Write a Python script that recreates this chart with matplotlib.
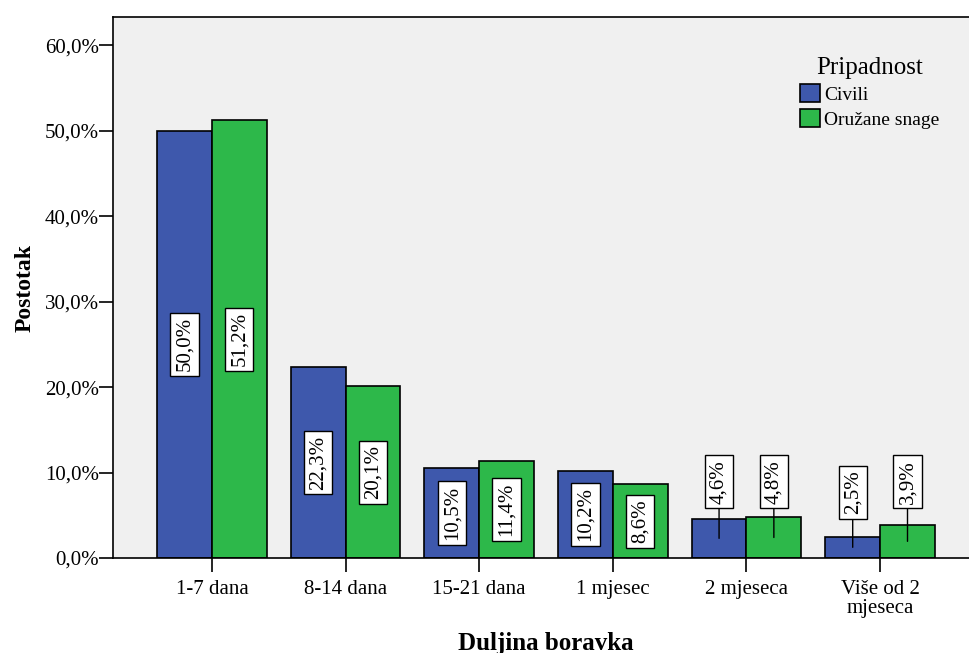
import matplotlib
matplotlib.use("Agg")
import matplotlib.pyplot as plt
import numpy as np

categories = ["1-7 dana", "8-14 dana", "15-21 dana", "1 mjesec", "2 mjeseca", "Više od 2\nmjeseca"]
civili = [50.0, 22.3, 10.5, 10.2, 4.6, 2.5]
oruzane = [51.2, 20.1, 11.4, 8.6, 4.8, 3.9]
series_names = ["Civili", "Oružane snage"]
yticks = [0, 10, 20, 30, 40, 50, 60]

plt.rcParams['font.family'] = ['Liberation Serif', 'DejaVu Serif']

fig = plt.figure(figsize=(9.69, 6.53), dpi=100)
fig.patch.set_facecolor("white")
ax = fig.add_axes([113/969, 95/653, 866/969, 541/653])
ax.set_facecolor("#F0F0F0")

x = np.arange(len(categories))
w = 0.41
colors = ["#3E58AC", "#2DB84A"]
b1 = ax.bar(x - w/2, civili, w, color=colors[0], edgecolor="black", linewidth=1.2, label=series_names[0], zorder=2)
b2 = ax.bar(x + w/2, oruzane, w, color=colors[1], edgecolor="black", linewidth=1.2, label=series_names[1], zorder=2)

def fmt(v):
    return f"{v:.1f}%".replace(".", ",")

bbox = dict(boxstyle="square,pad=0.22", fc="white", ec="black", lw=1.0)
for xs, vals in ((x - w/2, civili), (x + w/2, oruzane)):
    for xi, v in zip(xs, vals):
        if v >= 8:
            ax.text(xi, v/2, fmt(v), rotation=90, ha="center", va="center",
                    fontsize=15, bbox=bbox, zorder=4)
        else:
            ly = 7.7 if v < 3 else 8.9
            ax.annotate(fmt(v), xy=(xi, v/2), xytext=(xi, ly), rotation=90,
                        ha="center", va="center", fontsize=15, bbox=bbox, zorder=4,
                        arrowprops=dict(arrowstyle="-", color="black", lw=1.0,
                                        shrinkA=0, shrinkB=0))

ax.set_xlim(-0.74, len(categories) - 1 + 0.74)
ax.set_ylim(0, 63.3)
ax.set_yticks(yticks)
ax.set_yticklabels([f"{t:.1f}%".replace(".", ",") for t in yticks], fontsize=15)
ax.set_xticks(x)
ax.set_xticklabels(categories, fontsize=15, linespacing=1.0)
ax.tick_params(axis="both", direction="out", length=10, width=1.2, color="black")
ax.tick_params(axis="y", pad=0)
ax.tick_params(axis="x", pad=6)

for s in ["left", "top", "bottom"]:
    ax.spines[s].set_linewidth(1.2)
ax.spines["right"].set_visible(False)

ax.set_ylabel("Postotak", fontsize=17, fontweight="bold", labelpad=7)
ax.set_xlabel("Duljina boravka", fontsize=18, fontweight="bold", labelpad=10)

leg = ax.legend(title="Pripadnost", loc="upper left", bbox_to_anchor=(0.775, 0.955),
                frameon=False, fontsize=14, title_fontsize=18, handlelength=1.05,
                handleheight=1.0, handletextpad=0.2, labelspacing=0.28,
                borderpad=0.3)
for p in leg.get_patches():
    p.set_linewidth(1.2)

fig.savefig("out.png", dpi=100)
